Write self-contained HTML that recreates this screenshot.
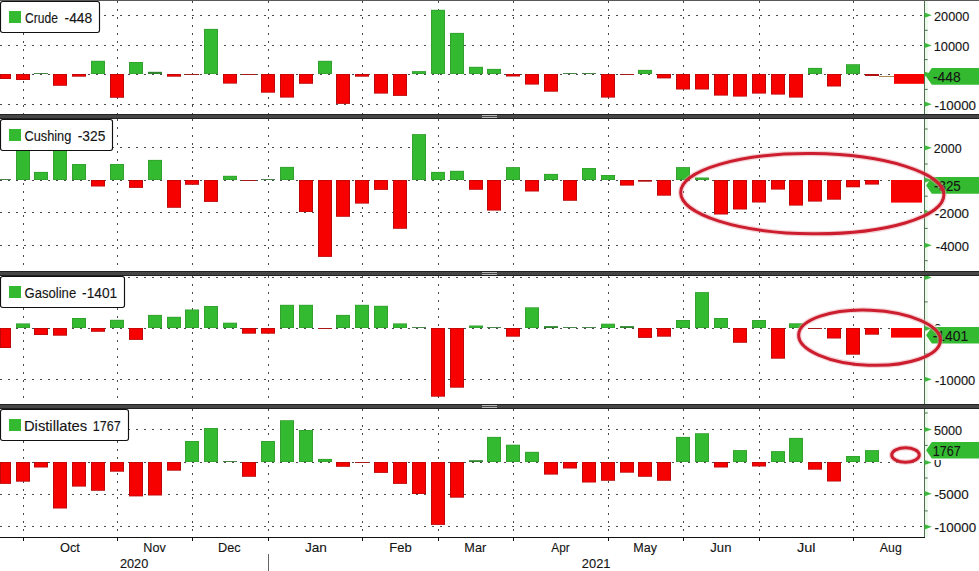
<!DOCTYPE html>
<html><head><meta charset="utf-8"><title>Weekly inventory changes</title>
<style>html,body{margin:0;padding:0;background:#fff;} body{width:979px;height:571px;overflow:hidden;position:relative;font-family:"Liberation Sans", sans-serif;}</style>
</head><body>
<svg width="979" height="571" viewBox="0 0 979 571" style="position:absolute;left:0;top:0" font-family='"Liberation Sans", sans-serif'>
<rect x="0" y="0" width="979" height="571" fill="#fff"/>
<line x1="23.5" y1="1" x2="23.5" y2="114" stroke="#4a4a4a" stroke-width="1" stroke-dasharray="2 6" shape-rendering="crispEdges"/>
<line x1="117.5" y1="1" x2="117.5" y2="114" stroke="#4a4a4a" stroke-width="1" stroke-dasharray="2 6" shape-rendering="crispEdges"/>
<line x1="192.5" y1="1" x2="192.5" y2="114" stroke="#4a4a4a" stroke-width="1" stroke-dasharray="2 6" shape-rendering="crispEdges"/>
<line x1="268.5" y1="1" x2="268.5" y2="114" stroke="#4a4a4a" stroke-width="1" stroke-dasharray="2 6" shape-rendering="crispEdges"/>
<line x1="362.5" y1="1" x2="362.5" y2="114" stroke="#4a4a4a" stroke-width="1" stroke-dasharray="2 6" shape-rendering="crispEdges"/>
<line x1="438.5" y1="1" x2="438.5" y2="114" stroke="#4a4a4a" stroke-width="1" stroke-dasharray="2 6" shape-rendering="crispEdges"/>
<line x1="513.5" y1="1" x2="513.5" y2="114" stroke="#4a4a4a" stroke-width="1" stroke-dasharray="2 6" shape-rendering="crispEdges"/>
<line x1="608.5" y1="1" x2="608.5" y2="114" stroke="#4a4a4a" stroke-width="1" stroke-dasharray="2 6" shape-rendering="crispEdges"/>
<line x1="683.5" y1="1" x2="683.5" y2="114" stroke="#4a4a4a" stroke-width="1" stroke-dasharray="2 6" shape-rendering="crispEdges"/>
<line x1="759.5" y1="1" x2="759.5" y2="114" stroke="#4a4a4a" stroke-width="1" stroke-dasharray="2 6" shape-rendering="crispEdges"/>
<line x1="853.5" y1="1" x2="853.5" y2="114" stroke="#4a4a4a" stroke-width="1" stroke-dasharray="2 6" shape-rendering="crispEdges"/>
<line x1="0" y1="15.5" x2="924.5" y2="15.5" stroke="#4a4a4a" stroke-width="1" stroke-dasharray="2 6" shape-rendering="crispEdges"/>
<line x1="0" y1="45.5" x2="924.5" y2="45.5" stroke="#4a4a4a" stroke-width="1" stroke-dasharray="2 6" shape-rendering="crispEdges"/>
<line x1="0" y1="104.5" x2="924.5" y2="104.5" stroke="#4a4a4a" stroke-width="1" stroke-dasharray="2 6" shape-rendering="crispEdges"/>
<line x1="23.5" y1="119" x2="23.5" y2="271" stroke="#4a4a4a" stroke-width="1" stroke-dasharray="2 6" shape-rendering="crispEdges"/>
<line x1="117.5" y1="119" x2="117.5" y2="271" stroke="#4a4a4a" stroke-width="1" stroke-dasharray="2 6" shape-rendering="crispEdges"/>
<line x1="192.5" y1="119" x2="192.5" y2="271" stroke="#4a4a4a" stroke-width="1" stroke-dasharray="2 6" shape-rendering="crispEdges"/>
<line x1="268.5" y1="119" x2="268.5" y2="271" stroke="#4a4a4a" stroke-width="1" stroke-dasharray="2 6" shape-rendering="crispEdges"/>
<line x1="362.5" y1="119" x2="362.5" y2="271" stroke="#4a4a4a" stroke-width="1" stroke-dasharray="2 6" shape-rendering="crispEdges"/>
<line x1="438.5" y1="119" x2="438.5" y2="271" stroke="#4a4a4a" stroke-width="1" stroke-dasharray="2 6" shape-rendering="crispEdges"/>
<line x1="513.5" y1="119" x2="513.5" y2="271" stroke="#4a4a4a" stroke-width="1" stroke-dasharray="2 6" shape-rendering="crispEdges"/>
<line x1="608.5" y1="119" x2="608.5" y2="271" stroke="#4a4a4a" stroke-width="1" stroke-dasharray="2 6" shape-rendering="crispEdges"/>
<line x1="683.5" y1="119" x2="683.5" y2="271" stroke="#4a4a4a" stroke-width="1" stroke-dasharray="2 6" shape-rendering="crispEdges"/>
<line x1="759.5" y1="119" x2="759.5" y2="271" stroke="#4a4a4a" stroke-width="1" stroke-dasharray="2 6" shape-rendering="crispEdges"/>
<line x1="853.5" y1="119" x2="853.5" y2="271" stroke="#4a4a4a" stroke-width="1" stroke-dasharray="2 6" shape-rendering="crispEdges"/>
<line x1="0" y1="147.5" x2="924.5" y2="147.5" stroke="#4a4a4a" stroke-width="1" stroke-dasharray="2 6" shape-rendering="crispEdges"/>
<line x1="0" y1="212.5" x2="924.5" y2="212.5" stroke="#4a4a4a" stroke-width="1" stroke-dasharray="2 6" shape-rendering="crispEdges"/>
<line x1="0" y1="245.5" x2="924.5" y2="245.5" stroke="#4a4a4a" stroke-width="1" stroke-dasharray="2 6" shape-rendering="crispEdges"/>
<line x1="23.5" y1="276" x2="23.5" y2="404" stroke="#4a4a4a" stroke-width="1" stroke-dasharray="2 6" shape-rendering="crispEdges"/>
<line x1="117.5" y1="276" x2="117.5" y2="404" stroke="#4a4a4a" stroke-width="1" stroke-dasharray="2 6" shape-rendering="crispEdges"/>
<line x1="192.5" y1="276" x2="192.5" y2="404" stroke="#4a4a4a" stroke-width="1" stroke-dasharray="2 6" shape-rendering="crispEdges"/>
<line x1="268.5" y1="276" x2="268.5" y2="404" stroke="#4a4a4a" stroke-width="1" stroke-dasharray="2 6" shape-rendering="crispEdges"/>
<line x1="362.5" y1="276" x2="362.5" y2="404" stroke="#4a4a4a" stroke-width="1" stroke-dasharray="2 6" shape-rendering="crispEdges"/>
<line x1="438.5" y1="276" x2="438.5" y2="404" stroke="#4a4a4a" stroke-width="1" stroke-dasharray="2 6" shape-rendering="crispEdges"/>
<line x1="513.5" y1="276" x2="513.5" y2="404" stroke="#4a4a4a" stroke-width="1" stroke-dasharray="2 6" shape-rendering="crispEdges"/>
<line x1="608.5" y1="276" x2="608.5" y2="404" stroke="#4a4a4a" stroke-width="1" stroke-dasharray="2 6" shape-rendering="crispEdges"/>
<line x1="683.5" y1="276" x2="683.5" y2="404" stroke="#4a4a4a" stroke-width="1" stroke-dasharray="2 6" shape-rendering="crispEdges"/>
<line x1="759.5" y1="276" x2="759.5" y2="404" stroke="#4a4a4a" stroke-width="1" stroke-dasharray="2 6" shape-rendering="crispEdges"/>
<line x1="853.5" y1="276" x2="853.5" y2="404" stroke="#4a4a4a" stroke-width="1" stroke-dasharray="2 6" shape-rendering="crispEdges"/>
<line x1="0" y1="277.5" x2="924.5" y2="277.5" stroke="#4a4a4a" stroke-width="1" stroke-dasharray="2 6" shape-rendering="crispEdges"/>
<line x1="0" y1="379.5" x2="924.5" y2="379.5" stroke="#4a4a4a" stroke-width="1" stroke-dasharray="2 6" shape-rendering="crispEdges"/>
<line x1="23.5" y1="409" x2="23.5" y2="537" stroke="#4a4a4a" stroke-width="1" stroke-dasharray="2 6" shape-rendering="crispEdges"/>
<line x1="117.5" y1="409" x2="117.5" y2="537" stroke="#4a4a4a" stroke-width="1" stroke-dasharray="2 6" shape-rendering="crispEdges"/>
<line x1="192.5" y1="409" x2="192.5" y2="537" stroke="#4a4a4a" stroke-width="1" stroke-dasharray="2 6" shape-rendering="crispEdges"/>
<line x1="268.5" y1="409" x2="268.5" y2="537" stroke="#4a4a4a" stroke-width="1" stroke-dasharray="2 6" shape-rendering="crispEdges"/>
<line x1="362.5" y1="409" x2="362.5" y2="537" stroke="#4a4a4a" stroke-width="1" stroke-dasharray="2 6" shape-rendering="crispEdges"/>
<line x1="438.5" y1="409" x2="438.5" y2="537" stroke="#4a4a4a" stroke-width="1" stroke-dasharray="2 6" shape-rendering="crispEdges"/>
<line x1="513.5" y1="409" x2="513.5" y2="537" stroke="#4a4a4a" stroke-width="1" stroke-dasharray="2 6" shape-rendering="crispEdges"/>
<line x1="608.5" y1="409" x2="608.5" y2="537" stroke="#4a4a4a" stroke-width="1" stroke-dasharray="2 6" shape-rendering="crispEdges"/>
<line x1="683.5" y1="409" x2="683.5" y2="537" stroke="#4a4a4a" stroke-width="1" stroke-dasharray="2 6" shape-rendering="crispEdges"/>
<line x1="759.5" y1="409" x2="759.5" y2="537" stroke="#4a4a4a" stroke-width="1" stroke-dasharray="2 6" shape-rendering="crispEdges"/>
<line x1="853.5" y1="409" x2="853.5" y2="537" stroke="#4a4a4a" stroke-width="1" stroke-dasharray="2 6" shape-rendering="crispEdges"/>
<line x1="0" y1="429.5" x2="924.5" y2="429.5" stroke="#4a4a4a" stroke-width="1" stroke-dasharray="2 6" shape-rendering="crispEdges"/>
<line x1="0" y1="494.5" x2="924.5" y2="494.5" stroke="#4a4a4a" stroke-width="1" stroke-dasharray="2 6" shape-rendering="crispEdges"/>
<line x1="0" y1="526.5" x2="924.5" y2="526.5" stroke="#4a4a4a" stroke-width="1" stroke-dasharray="2 6" shape-rendering="crispEdges"/>
<rect x="34.00" y="73" width="14.00" height="1" fill="#4a854a"/>
<rect x="91.00" y="60.80" width="14.00" height="13.20" fill="#33a02f"/>
<rect x="92.00" y="61.60" width="12.00" height="11.60" fill="#34ba30"/>
<rect x="129.00" y="62.00" width="14.00" height="12.00" fill="#33a02f"/>
<rect x="130.00" y="62.80" width="12.00" height="10.40" fill="#34ba30"/>
<rect x="148.00" y="71.80" width="14.00" height="2.20" fill="#2e852e"/>
<rect x="204.00" y="28.90" width="14.00" height="45.10" fill="#33a02f"/>
<rect x="205.00" y="29.70" width="12.00" height="43.50" fill="#34ba30"/>
<rect x="318.00" y="60.80" width="14.00" height="13.20" fill="#33a02f"/>
<rect x="319.00" y="61.60" width="12.00" height="11.60" fill="#34ba30"/>
<rect x="412.00" y="71.10" width="14.00" height="2.90" fill="#33a02f"/>
<rect x="413.00" y="71.90" width="12.00" height="1.30" fill="#34ba30"/>
<rect x="431.00" y="9.80" width="14.00" height="64.20" fill="#33a02f"/>
<rect x="432.00" y="10.60" width="12.00" height="62.60" fill="#34ba30"/>
<rect x="450.00" y="32.90" width="14.00" height="41.10" fill="#33a02f"/>
<rect x="451.00" y="33.70" width="12.00" height="39.50" fill="#34ba30"/>
<rect x="469.00" y="66.80" width="14.00" height="7.20" fill="#33a02f"/>
<rect x="470.00" y="67.60" width="12.00" height="5.60" fill="#34ba30"/>
<rect x="487.00" y="68.90" width="14.00" height="5.10" fill="#33a02f"/>
<rect x="488.00" y="69.70" width="12.00" height="3.50" fill="#34ba30"/>
<rect x="563.00" y="73" width="14.00" height="1" fill="#4a854a"/>
<rect x="582.00" y="73" width="14.00" height="1" fill="#4a854a"/>
<rect x="638.00" y="69.90" width="14.00" height="4.10" fill="#33a02f"/>
<rect x="639.00" y="70.70" width="12.00" height="2.50" fill="#34ba30"/>
<rect x="808.00" y="67.90" width="14.00" height="6.10" fill="#33a02f"/>
<rect x="809.00" y="68.70" width="12.00" height="4.50" fill="#34ba30"/>
<rect x="846.00" y="64.20" width="14.00" height="9.80" fill="#33a02f"/>
<rect x="847.00" y="65.00" width="12.00" height="8.20" fill="#34ba30"/>
<rect x="0.00" y="179" width="11.00" height="1" fill="#4a854a"/>
<rect x="16.00" y="140.00" width="14.00" height="40.00" fill="#33a02f"/>
<rect x="17.00" y="140.80" width="12.00" height="38.40" fill="#34ba30"/>
<rect x="34.00" y="171.90" width="14.00" height="8.10" fill="#33a02f"/>
<rect x="35.00" y="172.70" width="12.00" height="6.50" fill="#34ba30"/>
<rect x="53.00" y="140.00" width="14.00" height="40.00" fill="#33a02f"/>
<rect x="54.00" y="140.80" width="12.00" height="38.40" fill="#34ba30"/>
<rect x="72.00" y="164.00" width="14.00" height="16.00" fill="#33a02f"/>
<rect x="73.00" y="164.80" width="12.00" height="14.40" fill="#34ba30"/>
<rect x="110.00" y="164.00" width="14.00" height="16.00" fill="#33a02f"/>
<rect x="111.00" y="164.80" width="12.00" height="14.40" fill="#34ba30"/>
<rect x="148.00" y="159.90" width="14.00" height="20.10" fill="#33a02f"/>
<rect x="149.00" y="160.70" width="12.00" height="18.50" fill="#34ba30"/>
<rect x="223.00" y="175.80" width="14.00" height="4.20" fill="#33a02f"/>
<rect x="224.00" y="176.60" width="12.00" height="2.60" fill="#34ba30"/>
<rect x="261.00" y="179" width="14.00" height="1" fill="#4a854a"/>
<rect x="280.00" y="166.90" width="14.00" height="13.10" fill="#33a02f"/>
<rect x="281.00" y="167.70" width="12.00" height="11.50" fill="#34ba30"/>
<rect x="412.00" y="134.10" width="14.00" height="45.90" fill="#33a02f"/>
<rect x="413.00" y="134.90" width="12.00" height="44.30" fill="#34ba30"/>
<rect x="431.00" y="171.90" width="14.00" height="8.10" fill="#33a02f"/>
<rect x="432.00" y="172.70" width="12.00" height="6.50" fill="#34ba30"/>
<rect x="450.00" y="170.80" width="14.00" height="9.20" fill="#33a02f"/>
<rect x="451.00" y="171.60" width="12.00" height="7.60" fill="#34ba30"/>
<rect x="506.00" y="167.10" width="14.00" height="12.90" fill="#33a02f"/>
<rect x="507.00" y="167.90" width="12.00" height="11.30" fill="#34ba30"/>
<rect x="544.00" y="173.90" width="14.00" height="6.10" fill="#33a02f"/>
<rect x="545.00" y="174.70" width="12.00" height="4.50" fill="#34ba30"/>
<rect x="582.00" y="168.00" width="14.00" height="12.00" fill="#33a02f"/>
<rect x="583.00" y="168.80" width="12.00" height="10.40" fill="#34ba30"/>
<rect x="601.00" y="175.00" width="14.00" height="5.00" fill="#33a02f"/>
<rect x="602.00" y="175.80" width="12.00" height="3.40" fill="#34ba30"/>
<rect x="676.00" y="167.10" width="14.00" height="12.90" fill="#33a02f"/>
<rect x="677.00" y="167.90" width="12.00" height="11.30" fill="#34ba30"/>
<rect x="695.00" y="177.50" width="14.00" height="2.50" fill="#33a02f"/>
<rect x="696.00" y="178.30" width="12.00" height="0.90" fill="#34ba30"/>
<rect x="16.00" y="323.40" width="14.00" height="4.60" fill="#33a02f"/>
<rect x="17.00" y="324.20" width="12.00" height="3.00" fill="#34ba30"/>
<rect x="72.00" y="318.00" width="14.00" height="10.00" fill="#33a02f"/>
<rect x="73.00" y="318.80" width="12.00" height="8.40" fill="#34ba30"/>
<rect x="110.00" y="319.80" width="14.00" height="8.20" fill="#33a02f"/>
<rect x="111.00" y="320.60" width="12.00" height="6.60" fill="#34ba30"/>
<rect x="148.00" y="314.90" width="14.00" height="13.10" fill="#33a02f"/>
<rect x="149.00" y="315.70" width="12.00" height="11.50" fill="#34ba30"/>
<rect x="167.00" y="316.80" width="14.00" height="11.20" fill="#33a02f"/>
<rect x="168.00" y="317.60" width="12.00" height="9.60" fill="#34ba30"/>
<rect x="185.00" y="309.50" width="14.00" height="18.50" fill="#33a02f"/>
<rect x="186.00" y="310.30" width="12.00" height="16.90" fill="#34ba30"/>
<rect x="204.00" y="306.00" width="14.00" height="22.00" fill="#33a02f"/>
<rect x="205.00" y="306.80" width="12.00" height="20.40" fill="#34ba30"/>
<rect x="223.00" y="322.70" width="14.00" height="5.30" fill="#33a02f"/>
<rect x="224.00" y="323.50" width="12.00" height="3.70" fill="#34ba30"/>
<rect x="280.00" y="304.80" width="14.00" height="23.20" fill="#33a02f"/>
<rect x="281.00" y="305.60" width="12.00" height="21.60" fill="#34ba30"/>
<rect x="299.00" y="304.80" width="14.00" height="23.20" fill="#33a02f"/>
<rect x="300.00" y="305.60" width="12.00" height="21.60" fill="#34ba30"/>
<rect x="336.00" y="314.90" width="14.00" height="13.10" fill="#33a02f"/>
<rect x="337.00" y="315.70" width="12.00" height="11.50" fill="#34ba30"/>
<rect x="355.00" y="304.80" width="14.00" height="23.20" fill="#33a02f"/>
<rect x="356.00" y="305.60" width="12.00" height="21.60" fill="#34ba30"/>
<rect x="374.00" y="305.80" width="14.00" height="22.20" fill="#33a02f"/>
<rect x="375.00" y="306.60" width="12.00" height="20.60" fill="#34ba30"/>
<rect x="393.00" y="323.40" width="14.00" height="4.60" fill="#33a02f"/>
<rect x="394.00" y="324.20" width="12.00" height="3.00" fill="#34ba30"/>
<rect x="412.00" y="327" width="14.00" height="1" fill="#4a854a"/>
<rect x="469.00" y="325.50" width="14.00" height="2.50" fill="#33a02f"/>
<rect x="470.00" y="326.30" width="12.00" height="0.90" fill="#34ba30"/>
<rect x="487.00" y="327" width="14.00" height="1" fill="#4a854a"/>
<rect x="525.00" y="307.30" width="14.00" height="20.70" fill="#33a02f"/>
<rect x="526.00" y="308.10" width="12.00" height="19.10" fill="#34ba30"/>
<rect x="544.00" y="326.10" width="14.00" height="1.90" fill="#2e852e"/>
<rect x="563.00" y="327" width="14.00" height="1" fill="#4a854a"/>
<rect x="582.00" y="327" width="14.00" height="1" fill="#4a854a"/>
<rect x="601.00" y="323.70" width="14.00" height="4.30" fill="#33a02f"/>
<rect x="602.00" y="324.50" width="12.00" height="2.70" fill="#34ba30"/>
<rect x="620.00" y="326.10" width="14.00" height="1.90" fill="#2e852e"/>
<rect x="676.00" y="320.00" width="14.00" height="8.00" fill="#33a02f"/>
<rect x="677.00" y="320.80" width="12.00" height="6.40" fill="#34ba30"/>
<rect x="695.00" y="292.10" width="14.00" height="35.90" fill="#33a02f"/>
<rect x="696.00" y="292.90" width="12.00" height="34.30" fill="#34ba30"/>
<rect x="714.00" y="318.00" width="14.00" height="10.00" fill="#33a02f"/>
<rect x="715.00" y="318.80" width="12.00" height="8.40" fill="#34ba30"/>
<rect x="752.00" y="320.00" width="14.00" height="8.00" fill="#33a02f"/>
<rect x="753.00" y="320.80" width="12.00" height="6.40" fill="#34ba30"/>
<rect x="789.00" y="323.30" width="14.00" height="4.70" fill="#33a02f"/>
<rect x="790.00" y="324.10" width="12.00" height="3.10" fill="#34ba30"/>
<rect x="185.00" y="441.00" width="14.00" height="21.00" fill="#33a02f"/>
<rect x="186.00" y="441.80" width="12.00" height="19.40" fill="#34ba30"/>
<rect x="204.00" y="428.00" width="14.00" height="34.00" fill="#33a02f"/>
<rect x="205.00" y="428.80" width="12.00" height="32.40" fill="#34ba30"/>
<rect x="223.00" y="461" width="14.00" height="1" fill="#4a854a"/>
<rect x="261.00" y="441.00" width="14.00" height="21.00" fill="#33a02f"/>
<rect x="262.00" y="441.80" width="12.00" height="19.40" fill="#34ba30"/>
<rect x="280.00" y="420.20" width="14.00" height="41.80" fill="#33a02f"/>
<rect x="281.00" y="421.00" width="12.00" height="40.20" fill="#34ba30"/>
<rect x="299.00" y="430.00" width="14.00" height="32.00" fill="#33a02f"/>
<rect x="300.00" y="430.80" width="12.00" height="30.40" fill="#34ba30"/>
<rect x="318.00" y="458.90" width="14.00" height="3.10" fill="#33a02f"/>
<rect x="319.00" y="459.70" width="12.00" height="1.50" fill="#34ba30"/>
<rect x="469.00" y="460.20" width="14.00" height="1.80" fill="#2e852e"/>
<rect x="487.00" y="436.90" width="14.00" height="25.10" fill="#33a02f"/>
<rect x="488.00" y="437.70" width="12.00" height="23.50" fill="#34ba30"/>
<rect x="506.00" y="444.70" width="14.00" height="17.30" fill="#33a02f"/>
<rect x="507.00" y="445.50" width="12.00" height="15.70" fill="#34ba30"/>
<rect x="525.00" y="451.80" width="14.00" height="10.20" fill="#33a02f"/>
<rect x="526.00" y="452.60" width="12.00" height="8.60" fill="#34ba30"/>
<rect x="676.00" y="436.90" width="14.00" height="25.10" fill="#33a02f"/>
<rect x="677.00" y="437.70" width="12.00" height="23.50" fill="#34ba30"/>
<rect x="695.00" y="433.20" width="14.00" height="28.80" fill="#33a02f"/>
<rect x="696.00" y="434.00" width="12.00" height="27.20" fill="#34ba30"/>
<rect x="733.00" y="450.10" width="14.00" height="11.90" fill="#33a02f"/>
<rect x="734.00" y="450.90" width="12.00" height="10.30" fill="#34ba30"/>
<rect x="771.00" y="451.10" width="14.00" height="10.90" fill="#33a02f"/>
<rect x="772.00" y="451.90" width="12.00" height="9.30" fill="#34ba30"/>
<rect x="789.00" y="437.90" width="14.00" height="24.10" fill="#33a02f"/>
<rect x="790.00" y="438.70" width="12.00" height="22.50" fill="#34ba30"/>
<rect x="846.00" y="456.00" width="14.00" height="6.00" fill="#33a02f"/>
<rect x="847.00" y="456.80" width="12.00" height="4.40" fill="#34ba30"/>
<rect x="865.00" y="450.10" width="14.00" height="11.90" fill="#33a02f"/>
<rect x="866.00" y="450.90" width="12.00" height="10.30" fill="#34ba30"/>
<line x1="0" y1="74.5" x2="924.5" y2="74.5" stroke="#4a4a4a" stroke-width="1" stroke-dasharray="2 6" shape-rendering="crispEdges"/>
<line x1="0" y1="180.5" x2="924.5" y2="180.5" stroke="#4a4a4a" stroke-width="1" stroke-dasharray="2 6" shape-rendering="crispEdges"/>
<line x1="0" y1="328.5" x2="924.5" y2="328.5" stroke="#4a4a4a" stroke-width="1" stroke-dasharray="2 6" shape-rendering="crispEdges"/>
<line x1="0" y1="462.5" x2="924.5" y2="462.5" stroke="#4a4a4a" stroke-width="1" stroke-dasharray="2 6" shape-rendering="crispEdges"/>
<rect x="0.00" y="74.00" width="11.00" height="5.00" fill="#bc0808"/>
<rect x="1.00" y="74.80" width="9.00" height="3.40" fill="#f70000"/>
<rect x="16.00" y="74.00" width="14.00" height="6.00" fill="#bc0808"/>
<rect x="17.00" y="74.80" width="12.00" height="4.40" fill="#f70000"/>
<rect x="53.00" y="74.00" width="14.00" height="11.80" fill="#bc0808"/>
<rect x="54.00" y="74.80" width="12.00" height="10.20" fill="#f70000"/>
<rect x="72.00" y="74.00" width="14.00" height="2.70" fill="#bc0808"/>
<rect x="73.00" y="74.80" width="12.00" height="1.10" fill="#f70000"/>
<rect x="110.00" y="74.00" width="14.00" height="23.80" fill="#bc0808"/>
<rect x="111.00" y="74.80" width="12.00" height="22.20" fill="#f70000"/>
<rect x="167.00" y="74.00" width="14.00" height="2.70" fill="#bc0808"/>
<rect x="168.00" y="74.80" width="12.00" height="1.10" fill="#f70000"/>
<rect x="185.00" y="74" width="14.00" height="1" fill="#a81818"/>
<rect x="223.00" y="74.00" width="14.00" height="9.60" fill="#bc0808"/>
<rect x="224.00" y="74.80" width="12.00" height="8.00" fill="#f70000"/>
<rect x="242.00" y="74" width="14.00" height="1" fill="#a81818"/>
<rect x="261.00" y="74.00" width="14.00" height="18.70" fill="#bc0808"/>
<rect x="262.00" y="74.80" width="12.00" height="17.10" fill="#f70000"/>
<rect x="280.00" y="74.00" width="14.00" height="23.60" fill="#bc0808"/>
<rect x="281.00" y="74.80" width="12.00" height="22.00" fill="#f70000"/>
<rect x="299.00" y="74.00" width="14.00" height="9.80" fill="#bc0808"/>
<rect x="300.00" y="74.80" width="12.00" height="8.20" fill="#f70000"/>
<rect x="336.00" y="74.00" width="14.00" height="29.90" fill="#bc0808"/>
<rect x="337.00" y="74.80" width="12.00" height="28.30" fill="#f70000"/>
<rect x="355.00" y="74.00" width="14.00" height="2.70" fill="#bc0808"/>
<rect x="356.00" y="74.80" width="12.00" height="1.10" fill="#f70000"/>
<rect x="374.00" y="74.00" width="14.00" height="19.60" fill="#bc0808"/>
<rect x="375.00" y="74.80" width="12.00" height="18.00" fill="#f70000"/>
<rect x="393.00" y="74.00" width="14.00" height="21.90" fill="#bc0808"/>
<rect x="394.00" y="74.80" width="12.00" height="20.30" fill="#f70000"/>
<rect x="506.00" y="74.00" width="14.00" height="2.50" fill="#bc0808"/>
<rect x="507.00" y="74.80" width="12.00" height="0.90" fill="#f70000"/>
<rect x="525.00" y="74.00" width="14.00" height="10.60" fill="#bc0808"/>
<rect x="526.00" y="74.80" width="12.00" height="9.00" fill="#f70000"/>
<rect x="544.00" y="74.00" width="14.00" height="17.70" fill="#bc0808"/>
<rect x="545.00" y="74.80" width="12.00" height="16.10" fill="#f70000"/>
<rect x="601.00" y="74.00" width="14.00" height="23.60" fill="#bc0808"/>
<rect x="602.00" y="74.80" width="12.00" height="22.00" fill="#f70000"/>
<rect x="620.00" y="74" width="14.00" height="1" fill="#a81818"/>
<rect x="657.00" y="74.00" width="14.00" height="4.40" fill="#bc0808"/>
<rect x="658.00" y="74.80" width="12.00" height="2.80" fill="#f70000"/>
<rect x="676.00" y="74.00" width="14.00" height="15.50" fill="#bc0808"/>
<rect x="677.00" y="74.80" width="12.00" height="13.90" fill="#f70000"/>
<rect x="695.00" y="74.00" width="14.00" height="15.50" fill="#bc0808"/>
<rect x="696.00" y="74.80" width="12.00" height="13.90" fill="#f70000"/>
<rect x="714.00" y="74.00" width="14.00" height="21.60" fill="#bc0808"/>
<rect x="715.00" y="74.80" width="12.00" height="20.00" fill="#f70000"/>
<rect x="733.00" y="74.00" width="14.00" height="22.60" fill="#bc0808"/>
<rect x="734.00" y="74.80" width="12.00" height="21.00" fill="#f70000"/>
<rect x="752.00" y="74.00" width="14.00" height="19.60" fill="#bc0808"/>
<rect x="753.00" y="74.80" width="12.00" height="18.00" fill="#f70000"/>
<rect x="771.00" y="74.00" width="14.00" height="20.60" fill="#bc0808"/>
<rect x="772.00" y="74.80" width="12.00" height="19.00" fill="#f70000"/>
<rect x="789.00" y="74.00" width="14.00" height="23.60" fill="#bc0808"/>
<rect x="790.00" y="74.80" width="12.00" height="22.00" fill="#f70000"/>
<rect x="827.00" y="74.00" width="14.00" height="12.50" fill="#bc0808"/>
<rect x="828.00" y="74.80" width="12.00" height="10.90" fill="#f70000"/>
<rect x="865.00" y="74.00" width="14.00" height="2.00" fill="#b01010"/>
<rect x="894.0" y="74" width="30.5" height="9.799999999999997" fill="#f70000"/>
<rect x="91.00" y="180.00" width="14.00" height="6.50" fill="#bc0808"/>
<rect x="92.00" y="180.80" width="12.00" height="4.90" fill="#f70000"/>
<rect x="129.00" y="180.00" width="14.00" height="7.90" fill="#bc0808"/>
<rect x="130.00" y="180.80" width="12.00" height="6.30" fill="#f70000"/>
<rect x="167.00" y="180.00" width="14.00" height="27.80" fill="#bc0808"/>
<rect x="168.00" y="180.80" width="12.00" height="26.20" fill="#f70000"/>
<rect x="185.00" y="180.00" width="14.00" height="4.80" fill="#bc0808"/>
<rect x="186.00" y="180.80" width="12.00" height="3.20" fill="#f70000"/>
<rect x="204.00" y="180.00" width="14.00" height="21.90" fill="#bc0808"/>
<rect x="205.00" y="180.80" width="12.00" height="20.30" fill="#f70000"/>
<rect x="242.00" y="180" width="14.00" height="1" fill="#a81818"/>
<rect x="299.00" y="180.00" width="14.00" height="32.00" fill="#bc0808"/>
<rect x="300.00" y="180.80" width="12.00" height="30.40" fill="#f70000"/>
<rect x="318.00" y="180.00" width="14.00" height="76.90" fill="#bc0808"/>
<rect x="319.00" y="180.80" width="12.00" height="75.30" fill="#f70000"/>
<rect x="336.00" y="180.00" width="14.00" height="36.80" fill="#bc0808"/>
<rect x="337.00" y="180.80" width="12.00" height="35.20" fill="#f70000"/>
<rect x="355.00" y="180.00" width="14.00" height="23.60" fill="#bc0808"/>
<rect x="356.00" y="180.80" width="12.00" height="22.00" fill="#f70000"/>
<rect x="374.00" y="180.00" width="14.00" height="9.90" fill="#bc0808"/>
<rect x="375.00" y="180.80" width="12.00" height="8.30" fill="#f70000"/>
<rect x="393.00" y="180.00" width="14.00" height="48.80" fill="#bc0808"/>
<rect x="394.00" y="180.80" width="12.00" height="47.20" fill="#f70000"/>
<rect x="469.00" y="180.00" width="14.00" height="9.80" fill="#bc0808"/>
<rect x="470.00" y="180.80" width="12.00" height="8.20" fill="#f70000"/>
<rect x="487.00" y="180.00" width="14.00" height="30.60" fill="#bc0808"/>
<rect x="488.00" y="180.80" width="12.00" height="29.00" fill="#f70000"/>
<rect x="525.00" y="180.00" width="14.00" height="11.50" fill="#bc0808"/>
<rect x="526.00" y="180.80" width="12.00" height="9.90" fill="#f70000"/>
<rect x="563.00" y="180.00" width="14.00" height="20.80" fill="#bc0808"/>
<rect x="564.00" y="180.80" width="12.00" height="19.20" fill="#f70000"/>
<rect x="620.00" y="180.00" width="14.00" height="5.60" fill="#bc0808"/>
<rect x="621.00" y="180.80" width="12.00" height="4.00" fill="#f70000"/>
<rect x="638.00" y="180.00" width="14.00" height="1.70" fill="#b01010"/>
<rect x="657.00" y="180.00" width="14.00" height="15.70" fill="#bc0808"/>
<rect x="658.00" y="180.80" width="12.00" height="14.10" fill="#f70000"/>
<rect x="714.00" y="180.00" width="14.00" height="34.50" fill="#bc0808"/>
<rect x="715.00" y="180.80" width="12.00" height="32.90" fill="#f70000"/>
<rect x="733.00" y="180.00" width="14.00" height="29.50" fill="#bc0808"/>
<rect x="734.00" y="180.80" width="12.00" height="27.90" fill="#f70000"/>
<rect x="752.00" y="180.00" width="14.00" height="22.50" fill="#bc0808"/>
<rect x="753.00" y="180.80" width="12.00" height="20.90" fill="#f70000"/>
<rect x="771.00" y="180.00" width="14.00" height="9.60" fill="#bc0808"/>
<rect x="772.00" y="180.80" width="12.00" height="8.00" fill="#f70000"/>
<rect x="789.00" y="180.00" width="14.00" height="25.60" fill="#bc0808"/>
<rect x="790.00" y="180.80" width="12.00" height="24.00" fill="#f70000"/>
<rect x="808.00" y="180.00" width="14.00" height="21.60" fill="#bc0808"/>
<rect x="809.00" y="180.80" width="12.00" height="20.00" fill="#f70000"/>
<rect x="827.00" y="180.00" width="14.00" height="19.70" fill="#bc0808"/>
<rect x="828.00" y="180.80" width="12.00" height="18.10" fill="#f70000"/>
<rect x="846.00" y="180.00" width="14.00" height="7.30" fill="#bc0808"/>
<rect x="847.00" y="180.80" width="12.00" height="5.70" fill="#f70000"/>
<rect x="865.00" y="180.00" width="14.00" height="4.60" fill="#bc0808"/>
<rect x="866.00" y="180.80" width="12.00" height="3.00" fill="#f70000"/>
<rect x="891.0" y="180" width="31.0" height="22.599999999999994" fill="#f70000"/>
<rect x="0.00" y="328.00" width="11.00" height="20.00" fill="#bc0808"/>
<rect x="1.00" y="328.80" width="9.00" height="18.40" fill="#f70000"/>
<rect x="34.00" y="328.00" width="14.00" height="7.00" fill="#bc0808"/>
<rect x="35.00" y="328.80" width="12.00" height="5.40" fill="#f70000"/>
<rect x="53.00" y="328.00" width="14.00" height="7.70" fill="#bc0808"/>
<rect x="54.00" y="328.80" width="12.00" height="6.10" fill="#f70000"/>
<rect x="91.00" y="328.00" width="14.00" height="3.80" fill="#bc0808"/>
<rect x="92.00" y="328.80" width="12.00" height="2.20" fill="#f70000"/>
<rect x="129.00" y="328.00" width="14.00" height="11.90" fill="#bc0808"/>
<rect x="130.00" y="328.80" width="12.00" height="10.30" fill="#f70000"/>
<rect x="242.00" y="328.00" width="14.00" height="5.70" fill="#bc0808"/>
<rect x="243.00" y="328.80" width="12.00" height="4.10" fill="#f70000"/>
<rect x="261.00" y="328.00" width="14.00" height="5.70" fill="#bc0808"/>
<rect x="262.00" y="328.80" width="12.00" height="4.10" fill="#f70000"/>
<rect x="318.00" y="328" width="14.00" height="1" fill="#a81818"/>
<rect x="431.00" y="328.00" width="14.00" height="68.70" fill="#bc0808"/>
<rect x="432.00" y="328.80" width="12.00" height="67.10" fill="#f70000"/>
<rect x="450.00" y="328.00" width="14.00" height="59.70" fill="#bc0808"/>
<rect x="451.00" y="328.80" width="12.00" height="58.10" fill="#f70000"/>
<rect x="506.00" y="328.00" width="14.00" height="8.70" fill="#bc0808"/>
<rect x="507.00" y="328.80" width="12.00" height="7.10" fill="#f70000"/>
<rect x="638.00" y="328.00" width="14.00" height="9.90" fill="#bc0808"/>
<rect x="639.00" y="328.80" width="12.00" height="8.30" fill="#f70000"/>
<rect x="657.00" y="328.00" width="14.00" height="8.70" fill="#bc0808"/>
<rect x="658.00" y="328.80" width="12.00" height="7.10" fill="#f70000"/>
<rect x="733.00" y="328.00" width="14.00" height="14.80" fill="#bc0808"/>
<rect x="734.00" y="328.80" width="12.00" height="13.20" fill="#f70000"/>
<rect x="771.00" y="328.00" width="14.00" height="30.70" fill="#bc0808"/>
<rect x="772.00" y="328.80" width="12.00" height="29.10" fill="#f70000"/>
<rect x="808.00" y="328" width="14.00" height="1" fill="#a81818"/>
<rect x="827.00" y="328.00" width="14.00" height="10.50" fill="#bc0808"/>
<rect x="828.00" y="328.80" width="12.00" height="8.90" fill="#f70000"/>
<rect x="846.00" y="328.00" width="14.00" height="26.70" fill="#bc0808"/>
<rect x="847.00" y="328.80" width="12.00" height="25.10" fill="#f70000"/>
<rect x="865.00" y="328.00" width="14.00" height="6.70" fill="#bc0808"/>
<rect x="866.00" y="328.80" width="12.00" height="5.10" fill="#f70000"/>
<rect x="891.0" y="328" width="31.0" height="9.600000000000023" fill="#f70000"/>
<rect x="0.00" y="462.00" width="11.00" height="21.90" fill="#bc0808"/>
<rect x="1.00" y="462.80" width="9.00" height="20.30" fill="#f70000"/>
<rect x="16.00" y="462.00" width="14.00" height="19.70" fill="#bc0808"/>
<rect x="17.00" y="462.80" width="12.00" height="18.10" fill="#f70000"/>
<rect x="34.00" y="462.00" width="14.00" height="5.50" fill="#bc0808"/>
<rect x="35.00" y="462.80" width="12.00" height="3.90" fill="#f70000"/>
<rect x="53.00" y="462.00" width="14.00" height="46.50" fill="#bc0808"/>
<rect x="54.00" y="462.80" width="12.00" height="44.90" fill="#f70000"/>
<rect x="72.00" y="462.00" width="14.00" height="24.60" fill="#bc0808"/>
<rect x="73.00" y="462.80" width="12.00" height="23.00" fill="#f70000"/>
<rect x="91.00" y="462.00" width="14.00" height="28.80" fill="#bc0808"/>
<rect x="92.00" y="462.80" width="12.00" height="27.20" fill="#f70000"/>
<rect x="110.00" y="462.00" width="14.00" height="9.70" fill="#bc0808"/>
<rect x="111.00" y="462.80" width="12.00" height="8.10" fill="#f70000"/>
<rect x="129.00" y="462.00" width="14.00" height="34.40" fill="#bc0808"/>
<rect x="130.00" y="462.80" width="12.00" height="32.80" fill="#f70000"/>
<rect x="148.00" y="462.00" width="14.00" height="33.50" fill="#bc0808"/>
<rect x="149.00" y="462.80" width="12.00" height="31.90" fill="#f70000"/>
<rect x="167.00" y="462.00" width="14.00" height="8.70" fill="#bc0808"/>
<rect x="168.00" y="462.80" width="12.00" height="7.10" fill="#f70000"/>
<rect x="242.00" y="462.00" width="14.00" height="14.80" fill="#bc0808"/>
<rect x="243.00" y="462.80" width="12.00" height="13.20" fill="#f70000"/>
<rect x="336.00" y="462.00" width="14.00" height="4.80" fill="#bc0808"/>
<rect x="337.00" y="462.80" width="12.00" height="3.20" fill="#f70000"/>
<rect x="355.00" y="462" width="14.00" height="1" fill="#a81818"/>
<rect x="374.00" y="462.00" width="14.00" height="10.90" fill="#bc0808"/>
<rect x="375.00" y="462.80" width="12.00" height="9.30" fill="#f70000"/>
<rect x="393.00" y="462.00" width="14.00" height="21.90" fill="#bc0808"/>
<rect x="394.00" y="462.80" width="12.00" height="20.30" fill="#f70000"/>
<rect x="412.00" y="462.00" width="14.00" height="32.00" fill="#bc0808"/>
<rect x="413.00" y="462.80" width="12.00" height="30.40" fill="#f70000"/>
<rect x="431.00" y="462.00" width="14.00" height="62.90" fill="#bc0808"/>
<rect x="432.00" y="462.80" width="12.00" height="61.30" fill="#f70000"/>
<rect x="450.00" y="462.00" width="14.00" height="35.70" fill="#bc0808"/>
<rect x="451.00" y="462.80" width="12.00" height="34.10" fill="#f70000"/>
<rect x="544.00" y="462.00" width="14.00" height="12.60" fill="#bc0808"/>
<rect x="545.00" y="462.80" width="12.00" height="11.00" fill="#f70000"/>
<rect x="563.00" y="462.00" width="14.00" height="6.50" fill="#bc0808"/>
<rect x="564.00" y="462.80" width="12.00" height="4.90" fill="#f70000"/>
<rect x="582.00" y="462.00" width="14.00" height="20.50" fill="#bc0808"/>
<rect x="583.00" y="462.80" width="12.00" height="18.90" fill="#f70000"/>
<rect x="601.00" y="462.00" width="14.00" height="18.80" fill="#bc0808"/>
<rect x="602.00" y="462.80" width="12.00" height="17.20" fill="#f70000"/>
<rect x="620.00" y="462.00" width="14.00" height="10.70" fill="#bc0808"/>
<rect x="621.00" y="462.80" width="12.00" height="9.10" fill="#f70000"/>
<rect x="638.00" y="462.00" width="14.00" height="14.80" fill="#bc0808"/>
<rect x="639.00" y="462.80" width="12.00" height="13.20" fill="#f70000"/>
<rect x="657.00" y="462.00" width="14.00" height="18.80" fill="#bc0808"/>
<rect x="658.00" y="462.80" width="12.00" height="17.20" fill="#f70000"/>
<rect x="714.00" y="462.00" width="14.00" height="5.50" fill="#bc0808"/>
<rect x="715.00" y="462.80" width="12.00" height="3.90" fill="#f70000"/>
<rect x="752.00" y="462.00" width="14.00" height="4.50" fill="#bc0808"/>
<rect x="753.00" y="462.80" width="12.00" height="2.90" fill="#f70000"/>
<rect x="808.00" y="462.00" width="14.00" height="7.70" fill="#bc0808"/>
<rect x="809.00" y="462.80" width="12.00" height="6.10" fill="#f70000"/>
<rect x="827.00" y="462.00" width="14.00" height="19.50" fill="#bc0808"/>
<rect x="828.00" y="462.80" width="12.00" height="17.90" fill="#f70000"/>
<rect x="879" y="76" width="15" height="1" fill="#a88850"/>
<rect x="925" y="0" width="3" height="537" fill="#ecf9ec"/>
<rect x="924" y="0" width="1" height="537" fill="#4f6f4f"/>
<defs>
<clipPath id="zc2"><rect x="926" y="0" width="40" height="325.6"/></clipPath>
<clipPath id="zc3"><rect x="926" y="459.9" width="40" height="111.10000000000002"/></clipPath>
</defs>
<path d="M924.5 12.6 L931.8 15.2 L924.5 17.8 Z" fill="#3dba3d"/>
<path d="M924.5 42.8 L931.8 45.4 L924.5 48.0 Z" fill="#3dba3d"/>
<path d="M924.5 71.60000000000001 L931.8 74.2 L924.5 76.8 Z" fill="#3dba3d"/>
<path d="M924.5 101.60000000000001 L931.8 104.2 L924.5 106.8 Z" fill="#3dba3d"/>
<line x1="924.5" y1="0.2" x2="927.7" y2="0.2" stroke="#4f6f4f" stroke-width="1"/>
<line x1="924.5" y1="30.3" x2="927.7" y2="30.3" stroke="#4f6f4f" stroke-width="1"/>
<line x1="924.5" y1="59.6" x2="927.7" y2="59.6" stroke="#4f6f4f" stroke-width="1"/>
<line x1="924.5" y1="89.4" x2="927.7" y2="89.4" stroke="#4f6f4f" stroke-width="1"/>
<text x="934.07" y="20.7" font-size="12.8" fill="#141414" stroke="#141414" stroke-width="0.12" textLength="35.22" lengthAdjust="spacingAndGlyphs">20000</text>
<text x="933.74" y="50.9" font-size="12.8" fill="#141414" stroke="#141414" stroke-width="0.12" textLength="35.55" lengthAdjust="spacingAndGlyphs">10000</text>
<text x="934.50" y="109.7" font-size="12.8" fill="#141414" stroke="#141414" stroke-width="0.12" textLength="41.52" lengthAdjust="spacingAndGlyphs">-10000</text>
<path d="M926.1 76.4 L931.8 68.10000000000001 L979 68.10000000000001 L979 84.7 L931.8 84.7 Z" fill="#34ba30"/>
<text x="932.98" y="81.8" font-size="13.8" fill="#141414" stroke="#141414" stroke-width="0.12" textLength="27.73" lengthAdjust="spacingAndGlyphs">-448</text>
<path d="M924.5 145.20000000000002 L931.8 147.8 L924.5 150.4 Z" fill="#3dba3d"/>
<path d="M924.5 177.5 L931.8 180.1 L924.5 182.7 Z" fill="#3dba3d"/>
<path d="M924.5 209.8 L931.8 212.4 L924.5 215.0 Z" fill="#3dba3d"/>
<path d="M924.5 242.70000000000002 L931.8 245.3 L924.5 247.9 Z" fill="#3dba3d"/>
<line x1="924.5" y1="129" x2="927.7" y2="129" stroke="#4f6f4f" stroke-width="1"/>
<line x1="924.5" y1="164" x2="927.7" y2="164" stroke="#4f6f4f" stroke-width="1"/>
<line x1="924.5" y1="196.2" x2="927.7" y2="196.2" stroke="#4f6f4f" stroke-width="1"/>
<line x1="924.5" y1="228.4" x2="927.7" y2="228.4" stroke="#4f6f4f" stroke-width="1"/>
<line x1="924.5" y1="260.7" x2="927.7" y2="260.7" stroke="#4f6f4f" stroke-width="1"/>
<text x="933.87" y="153.3" font-size="12.8" fill="#141414" stroke="#141414" stroke-width="0.12" textLength="27.82" lengthAdjust="spacingAndGlyphs">2000</text>
<text x="934.80" y="217.9" font-size="12.8" fill="#141414" stroke="#141414" stroke-width="0.12" textLength="34.21" lengthAdjust="spacingAndGlyphs">-2000</text>
<text x="935.81" y="250.8" font-size="12.8" fill="#141414" stroke="#141414" stroke-width="0.12" textLength="33.28" lengthAdjust="spacingAndGlyphs">-4000</text>
<path d="M926.1 185.4 L931.8 177.1 L979 177.1 L979 193.70000000000002 L931.8 193.70000000000002 Z" fill="#34ba30"/>
<text x="934.00" y="190.8" font-size="13.8" fill="#141414" stroke="#141414" stroke-width="0.12" textLength="26.76" lengthAdjust="spacingAndGlyphs">-325</text>
<path d="M924.5 274.79999999999995 L931.8 277.4 L924.5 280.0 Z" fill="#3dba3d"/>
<path d="M924.5 325.79999999999995 L931.8 328.4 L924.5 331.0 Z" fill="#3dba3d"/>
<path d="M924.5 376.7 L931.8 379.3 L924.5 381.90000000000003 Z" fill="#3dba3d"/>
<line x1="924.5" y1="301.9" x2="927.7" y2="301.9" stroke="#4f6f4f" stroke-width="1"/>
<line x1="924.5" y1="354.0" x2="927.7" y2="354.0" stroke="#4f6f4f" stroke-width="1"/>
<text x="935.02" y="384.8" font-size="12.8" fill="#141414" stroke="#141414" stroke-width="0.12" textLength="40.29" lengthAdjust="spacingAndGlyphs">-10000</text>
<g clip-path="url(#zc2)"><text x="933.91" y="333.0" font-size="12.8" fill="#141414" stroke="#141414" stroke-width="0.12" textLength="7.30" lengthAdjust="spacingAndGlyphs">0</text></g>
<path d="M926.1 335.3 L931.8 327.0 L979 327.0 L979 343.6 L931.8 343.6 Z" fill="#34ba30"/>
<text x="932.67" y="340.7" font-size="13.8" fill="#141414" stroke="#141414" stroke-width="0.12" textLength="35.69" lengthAdjust="spacingAndGlyphs">-1401</text>
<path d="M924.5 426.9 L931.8 429.5 L924.5 432.1 Z" fill="#3dba3d"/>
<path d="M924.5 459.9 L931.8 462.5 L924.5 465.1 Z" fill="#3dba3d"/>
<path d="M924.5 491.09999999999997 L931.8 493.7 L924.5 496.3 Z" fill="#3dba3d"/>
<path d="M924.5 524.1999999999999 L931.8 526.8 L924.5 529.4 Z" fill="#3dba3d"/>
<line x1="924.5" y1="413" x2="927.7" y2="413" stroke="#4f6f4f" stroke-width="1"/>
<line x1="924.5" y1="445.4" x2="927.7" y2="445.4" stroke="#4f6f4f" stroke-width="1"/>
<line x1="924.5" y1="478" x2="927.7" y2="478" stroke="#4f6f4f" stroke-width="1"/>
<line x1="924.5" y1="510.9" x2="927.7" y2="510.9" stroke="#4f6f4f" stroke-width="1"/>
<text x="933.89" y="435.0" font-size="12.8" fill="#141414" stroke="#141414" stroke-width="0.12" textLength="28.21" lengthAdjust="spacingAndGlyphs">5000</text>
<text x="934.40" y="499.2" font-size="12.8" fill="#141414" stroke="#141414" stroke-width="0.12" textLength="34.31" lengthAdjust="spacingAndGlyphs">-5000</text>
<text x="934.40" y="532.3" font-size="12.8" fill="#141414" stroke="#141414" stroke-width="0.12" textLength="41.72" lengthAdjust="spacingAndGlyphs">-10000</text>
<g clip-path="url(#zc3)"><text x="933.91" y="467.2" font-size="12.8" fill="#141414" stroke="#141414" stroke-width="0.12" textLength="7.30" lengthAdjust="spacingAndGlyphs">0</text></g>
<path d="M926.1 450.2 L931.8 441.9 L979 441.9 L979 458.5 L931.8 458.5 Z" fill="#34ba30"/>
<text x="932.76" y="455.6" font-size="13.8" fill="#141414" stroke="#141414" stroke-width="0.12" textLength="27.86" lengthAdjust="spacingAndGlyphs">1767</text>
<rect x="0.5" y="1.5" width="99" height="31" rx="2.2" fill="#fff" stroke="#111" stroke-width="1.15"/>
<rect x="9" y="11" width="12" height="12" fill="#34ba30"/>
<text x="25.00" y="22.6" font-size="13.8" fill="#141414" stroke="#141414" stroke-width="0.12" textLength="32.83" lengthAdjust="spacingAndGlyphs">Crude</text>
<text x="64.58" y="22.6" font-size="13.8" fill="#141414" stroke="#141414" stroke-width="0.12" textLength="27.63" lengthAdjust="spacingAndGlyphs">-448</text>
<rect x="0.5" y="119.5" width="112" height="31" rx="2.2" fill="#fff" stroke="#111" stroke-width="1.15"/>
<rect x="9" y="129" width="12" height="12" fill="#34ba30"/>
<text x="24.46" y="140.6" font-size="13.8" fill="#141414" stroke="#141414" stroke-width="0.12" textLength="46.86" lengthAdjust="spacingAndGlyphs">Cushing</text>
<text x="77.78" y="140.6" font-size="13.8" fill="#141414" stroke="#141414" stroke-width="0.12" textLength="27.59" lengthAdjust="spacingAndGlyphs">-325</text>
<rect x="0.5" y="276.5" width="124" height="31" rx="2.2" fill="#fff" stroke="#111" stroke-width="1.15"/>
<rect x="9" y="286" width="12" height="12" fill="#34ba30"/>
<text x="24.55" y="297.7" font-size="13.8" fill="#141414" stroke="#141414" stroke-width="0.12" textLength="51.64" lengthAdjust="spacingAndGlyphs">Gasoline</text>
<text x="82.08" y="297.7" font-size="13.8" fill="#141414" stroke="#141414" stroke-width="0.12" textLength="35.07" lengthAdjust="spacingAndGlyphs">-1401</text>
<rect x="0.5" y="409.5" width="128" height="31" rx="2.2" fill="#fff" stroke="#111" stroke-width="1.15"/>
<rect x="9" y="419" width="12" height="12" fill="#34ba30"/>
<text x="23.98" y="430.8" font-size="13.8" fill="#141414" stroke="#141414" stroke-width="0.12" textLength="63.12" lengthAdjust="spacingAndGlyphs">Distillates</text>
<text x="92.86" y="430.8" font-size="13.8" fill="#141414" stroke="#141414" stroke-width="0.12" textLength="27.97" lengthAdjust="spacingAndGlyphs">1767</text>
<rect x="0" y="114" width="979" height="5" fill="#464646"/>
<rect x="0" y="114" width="979" height="1" fill="#222"/>
<rect x="0" y="118" width="979" height="1" fill="#222"/>
<rect x="482" y="115" width="15" height="1" fill="#b5b5b5"/>
<rect x="482" y="117" width="15" height="1" fill="#b5b5b5"/>
<rect x="0" y="271" width="979" height="5" fill="#464646"/>
<rect x="0" y="271" width="979" height="1" fill="#222"/>
<rect x="0" y="275" width="979" height="1" fill="#222"/>
<rect x="482" y="272" width="15" height="1" fill="#b5b5b5"/>
<rect x="482" y="274" width="15" height="1" fill="#b5b5b5"/>
<rect x="0" y="404" width="979" height="5" fill="#464646"/>
<rect x="0" y="404" width="979" height="1" fill="#222"/>
<rect x="0" y="408" width="979" height="1" fill="#222"/>
<rect x="482" y="405" width="15" height="1" fill="#b5b5b5"/>
<rect x="482" y="407" width="15" height="1" fill="#b5b5b5"/>
<rect x="0" y="0" width="979" height="1" fill="#585858"/>
<ellipse cx="812.3" cy="193.7" rx="131.6" ry="40.1" fill="none" stroke="#e8a0a8" stroke-opacity="0.45" stroke-width="5.5" transform="rotate(0.6 812.3 193.7)"/>
<ellipse cx="812.3" cy="193.7" rx="131.6" ry="40.1" fill="none" stroke="#cc1e2e" stroke-width="3.0" transform="rotate(0.6 812.3 193.7)"/>
<ellipse cx="869.5" cy="337.7" rx="70.9" ry="27.5" fill="none" stroke="#e8a0a8" stroke-opacity="0.45" stroke-width="5.5" transform="rotate(2.4 869.5 337.7)"/>
<ellipse cx="869.5" cy="337.7" rx="70.9" ry="27.5" fill="none" stroke="#cc1e2e" stroke-width="3.0" transform="rotate(2.4 869.5 337.7)"/>
<ellipse cx="905.5" cy="455" rx="13.8" ry="7.3" fill="none" stroke="#e8a0a8" stroke-opacity="0.45" stroke-width="5.5"/>
<ellipse cx="905.5" cy="455" rx="13.8" ry="7.3" fill="none" stroke="#cc1e2e" stroke-width="3.0"/>
<rect x="0" y="537" width="925.0" height="1" fill="#111"/>
<rect x="23" y="537" width="1" height="4" fill="#111"/>
<rect x="117" y="537" width="1" height="4" fill="#111"/>
<rect x="192" y="537" width="1" height="4" fill="#111"/>
<rect x="268" y="537" width="1" height="4" fill="#111"/>
<rect x="362" y="537" width="1" height="4" fill="#111"/>
<rect x="438" y="537" width="1" height="4" fill="#111"/>
<rect x="513" y="537" width="1" height="4" fill="#111"/>
<rect x="608" y="537" width="1" height="4" fill="#111"/>
<rect x="683" y="537" width="1" height="4" fill="#111"/>
<rect x="759" y="537" width="1" height="4" fill="#111"/>
<rect x="853" y="537" width="1" height="4" fill="#111"/>
<rect x="268" y="554" width="1" height="17" fill="#666"/>
<text x="59.99" y="551.9" font-size="13.5" fill="#141414" stroke="#141414" stroke-width="0.12" textLength="19.91" lengthAdjust="spacingAndGlyphs">Oct</text>
<text x="143.36" y="551.9" font-size="13.5" fill="#141414" stroke="#141414" stroke-width="0.12" textLength="22.38" lengthAdjust="spacingAndGlyphs">Nov</text>
<text x="217.95" y="551.9" font-size="13.5" fill="#141414" stroke="#141414" stroke-width="0.12" textLength="22.68" lengthAdjust="spacingAndGlyphs">Dec</text>
<text x="304.90" y="551.9" font-size="13.5" fill="#141414" stroke="#141414" stroke-width="0.12" textLength="21.99" lengthAdjust="spacingAndGlyphs">Jan</text>
<text x="389.22" y="551.9" font-size="13.5" fill="#141414" stroke="#141414" stroke-width="0.12" textLength="22.51" lengthAdjust="spacingAndGlyphs">Feb</text>
<text x="464.35" y="551.9" font-size="13.5" fill="#141414" stroke="#141414" stroke-width="0.12" textLength="21.83" lengthAdjust="spacingAndGlyphs">Mar</text>
<text x="551.27" y="551.9" font-size="13.5" fill="#141414" stroke="#141414" stroke-width="0.12" textLength="18.42" lengthAdjust="spacingAndGlyphs">Apr</text>
<text x="633.37" y="551.9" font-size="13.5" fill="#141414" stroke="#141414" stroke-width="0.12" textLength="23.65" lengthAdjust="spacingAndGlyphs">May</text>
<text x="710.30" y="551.9" font-size="13.5" fill="#141414" stroke="#141414" stroke-width="0.12" textLength="21.15" lengthAdjust="spacingAndGlyphs">Jun</text>
<text x="796.98" y="551.9" font-size="13.5" fill="#141414" stroke="#141414" stroke-width="0.12" textLength="18.61" lengthAdjust="spacingAndGlyphs">Jul</text>
<text x="879.87" y="551.9" font-size="13.5" fill="#141414" stroke="#141414" stroke-width="0.12" textLength="21.92" lengthAdjust="spacingAndGlyphs">Aug</text>
<text x="119.96" y="567.5" font-size="13.5" fill="#141414" stroke="#141414" stroke-width="0.12" textLength="28.34" lengthAdjust="spacingAndGlyphs">2020</text>
<text x="581.86" y="567.5" font-size="13.5" fill="#141414" stroke="#141414" stroke-width="0.12" textLength="28.58" lengthAdjust="spacingAndGlyphs">2021</text>
</svg>
</body></html>
